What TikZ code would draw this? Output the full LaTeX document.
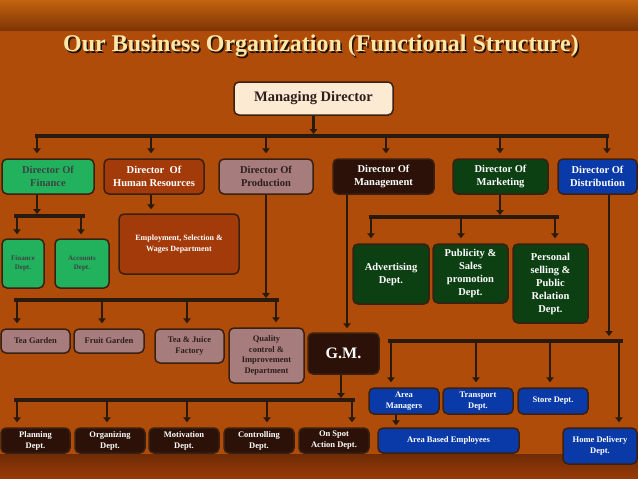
\documentclass[tikz,border=0pt]{standalone}
\usepackage{fontspec}
\setmainfont{Liberation Serif}
\usetikzlibrary{arrows.meta}
\definecolor{bgmain}{HTML}{B04C09}
\definecolor{bgtop}{HTML}{C4630F}
\definecolor{bgtopdk}{HTML}{7E3606}
\definecolor{bgbotdk}{HTML}{6E2C06}
\definecolor{bgbot}{HTML}{9A3A08}
\definecolor{linec}{HTML}{2A1A0C}
\definecolor{edgec}{HTML}{3A2010}
\definecolor{titlec}{HTML}{FFE7A8}
\definecolor{mdfill}{HTML}{FCEBD2}
\definecolor{greenf}{HTML}{22B25E}
\definecolor{hrf}{HTML}{A33A0A}
\definecolor{mauvef}{HTML}{A67C7C}
\definecolor{darkf}{HTML}{2B1108}
\definecolor{mktf}{HTML}{0C4012}
\definecolor{bluef}{HTML}{0A3AA8}
\definecolor{graytext}{HTML}{3C4444}
\definecolor{mauvetext}{HTML}{2E1E1E}
\newcommand\bx[7]{\node[#6, minimum width={(#4-#2)*1pt}, minimum height={(#5-#3)*1pt}] (#1) at ({(#2+#4)/2},{(#3+#5)/2}) {#7};}
\newcommand\fs[2]{\fontsize{#1}{#2}\selectfont\bfseries}
\tikzset{
  box/.style={draw=edgec, line width=1.5pt, rounded corners=5pt, inner sep=1pt, align=center},
  greenbox/.style={box, fill=greenf, text=graytext},
  hrbox/.style={box, fill=hrf, text=white},
  mauvebox/.style={box, fill=mauvef, text=mauvetext},
  darkbox/.style={box, fill=darkf, text=white},
  mktbox/.style={box, fill=mktf, text=white},
  bluebox/.style={box, fill=bluef, text=white},
  bus/.style={draw=linec, line width=4pt},
  arr/.style={draw=linec, line width=2.6pt, -{Triangle[length=5pt,width=7.5pt]}},
  plain/.style={draw=linec, line width=2.6pt}
}
\begin{document}
\begin{tikzpicture}[x=1pt,y=-1pt]
\useasboundingbox (0,0) rectangle (638,479);
% background
\fill[bgmain] (0,0) rectangle (638,479);
\shade[top color=bgtop, bottom color=bgtopdk] (0,0) rectangle (638,30);
\shade[top color=bgbotdk, bottom color=bgbot] (0,454) rectangle (638,479);
% title
\node[text=black!85!brown, font=\fs{24}{28}] at (322.5,47.5) {Our Business Organization (Functional Structure)};
\node[text=titlec, font=\fs{24}{28}] (title) at (321,46) {Our Business Organization (Functional Structure)};
% managing director
\bx{md}{234}{82}{393}{115}{box, fill=mdfill, text=mauvetext, font=\fs{14.5}{17}}{Managing Director}
% directors
\bx{fin}{2}{159}{94}{194}{greenbox, font=\fs{10.5}{12.5}}{Director Of\\Finance}
\bx{hr}{104}{159}{204}{194}{hrbox, font=\fs{10.5}{12.5}}{Director\ \ Of\\Human Resources}
\bx{prod}{219}{159}{313}{194}{mauvebox, font=\fs{10.5}{12.5}}{Director Of\\Production}
\bx{mgmt}{333}{159}{434}{194}{darkbox, font=\fs{10.5}{12.5}}{Director Of\\Management}
\bx{mkt}{453}{159}{548}{194}{mktbox, font=\fs{10.5}{12.5}}{Director Of\\Marketing}
\bx{dist}{558}{159}{637}{194}{bluebox, font=\fs{10.5}{12.5}}{Director Of\\Distribution}
% finance
\bx{findept}{2}{239}{44}{288}{greenbox, font=\fs{7}{9}}{Finance\\Dept.}
\bx{acc}{55}{239}{109}{288}{greenbox, font=\fs{7}{9}}{Accounts\\Dept.}
% HR
\bx{emp}{119}{214}{239}{274}{hrbox, font=\fs{8}{11}}{Employment, Selection \&\\Wages Department}
% production
\bx{tea}{1}{329}{70}{353}{mauvebox, font=\fs{8.5}{10.5}}{Tea Garden}
\bx{fruit}{74}{329}{144}{353}{mauvebox, font=\fs{8.5}{10.5}}{Fruit Garden}
\bx{juice}{155}{329}{224}{363}{mauvebox, font=\fs{8.5}{10.5}}{Tea \& Juice\\Factory}
\bx{qual}{229}{328}{304}{383}{mauvebox, font=\fs{8.5}{10.5}}{Quality\\control \&\\Improvement\\Department}
% GM
\bx{gm}{308}{333}{379}{374}{darkbox, font=\fs{16}{18}}{G.M.}
\bx{plan}{1}{428}{70}{453}{darkbox, font=\fs{8.5}{11}}{Planning\\Dept.}
\bx{org}{75}{428}{145}{453}{darkbox, font=\fs{8.5}{11}}{Organizing\\Dept.}
\bx{mot}{149}{428}{219}{453}{darkbox, font=\fs{8.5}{11}}{Motivation\\Dept.}
\bx{ctrl}{224}{428}{294}{453}{darkbox, font=\fs{8.5}{11}}{Controlling\\Dept.}
\bx{spot}{299}{428}{369}{453}{darkbox, font=\fs{8.5}{11}}{On Spot\\Action Dept.}
% marketing
\bx{adv}{353}{244}{429}{304}{mktbox, font=\fs{10.5}{13}}{Advertising\\Dept.}
\bx{pub}{433}{244}{508}{303}{mktbox, font=\fs{10.5}{13}}{Publicity \&\\Sales\\promotion\\Dept.}
\bx{pers}{513}{244}{588}{323}{mktbox, font=\fs{10.5}{13}}{Personal\\selling \&\\Public\\Relation\\Dept.}
% distribution
\bx{aream}{369}{388}{439}{414}{bluebox, font=\fs{8.5}{11}}{Area\\Managers}
\bx{trans}{443}{388}{513}{414}{bluebox, font=\fs{8.5}{11}}{Transport\\Dept.}
\bx{store}{518}{388}{588}{414}{bluebox, font=\fs{8.5}{11}}{Store Dept.}
\bx{abe}{378}{428}{519}{453}{bluebox, font=\fs{8.5}{11}}{Area Based Employees}
\bx{home}{563}{428}{637}{464}{bluebox, font=\fs{8.5}{11}}{Home Delivery\\Dept.}
% ---------- connectors ----------
% top bus
\coordinate (tbL) at (35,136); \coordinate (tbR) at (609,136);
\draw[bus] (tbL) -- (tbR);
\draw[arr, shorten >=2pt] (md.south) -- (md.south |- tbL);
\foreach \x/\n in {37/fin,151/hr,266/prod,386/mgmt,500/mkt,607/dist}{
  \coordinate (t) at (\x,136);
  \draw[arr, shorten >=5pt] (t) -- (t |- \n.north);
}
% finance bus
\coordinate (fbL) at (14,216); \coordinate (fbR) at (85,216);
\draw[bus] (fbL) -- (fbR);
\coordinate (f0) at (37,216);
\draw[arr, shorten >=2pt] (f0 |- fin.south) -- (f0);
\foreach \x/\n in {17/findept,81/acc}{
  \coordinate (t) at (\x,216);
  \draw[arr, shorten >=4pt] (t) -- (t |- \n.north);
}
% HR
\coordinate (h0) at (151,214);
\draw[arr, shorten >=4pt] (h0 |- hr.south) -- (h0 |- emp.north);
% production bus
\coordinate (pbL) at (14,300); \coordinate (pbR) at (279,300);
\draw[bus] (pbL) -- (pbR);
\coordinate (p0) at (266,300);
\draw[arr, shorten >=2pt] (p0 |- prod.south) -- (p0);
\foreach \x/\n in {17/tea,102/fruit,187/juice,276/qual}{
  \coordinate (t) at (\x,300);
  \draw[arr, shorten >=5pt] (t) -- (t |- \n.north);
}
% management to GM
\coordinate (m0) at (347,300);
\draw[arr, shorten >=4pt] (m0 |- mgmt.south) -- (m0 |- gm.north);
% GM bus
\coordinate (gbL) at (14,400); \coordinate (gbR) at (355,400);
\draw[bus] (gbL) -- (gbR);
\coordinate (g0) at (341,400);
\draw[arr, shorten >=2pt] (g0 |- gm.south) -- (g0);
\foreach \x/\n in {17/plan,107/org,187/mot,267/ctrl,352/spot}{
  \coordinate (t) at (\x,400);
  \draw[arr, shorten >=5pt] (t) -- (t |- \n.north);
}
% marketing bus
\coordinate (kbL) at (369,217); \coordinate (kbR) at (559,217);
\draw[bus] (kbL) -- (kbR);
\coordinate (k0) at (500,217);
\draw[arr, shorten >=2pt] (k0 |- mkt.south) -- (k0);
\foreach \x/\n in {371/adv,461/pub,555/pers}{
  \coordinate (t) at (\x,217);
  \draw[arr, shorten >=5pt] (t) -- (t |- \n.north);
}
% distribution bus
\coordinate (dbL) at (388,341); \coordinate (dbR) at (623,341);
\draw[bus] (dbL) -- (dbR);
\coordinate (d0) at (609,341);
\draw[arr, shorten >=5pt] (d0 |- dist.south) -- (d0);
\foreach \x/\n in {391/aream,476/trans,550/store,619/home}{
  \coordinate (t) at (\x,341);
  \draw[arr, shorten >=5pt] (t) -- (t |- \n.north);
}
\coordinate (a0) at (396,420);
\draw[arr, shorten >=2pt] (a0 |- aream.south) -- (a0 |- abe.north);
\end{tikzpicture}
\end{document}
